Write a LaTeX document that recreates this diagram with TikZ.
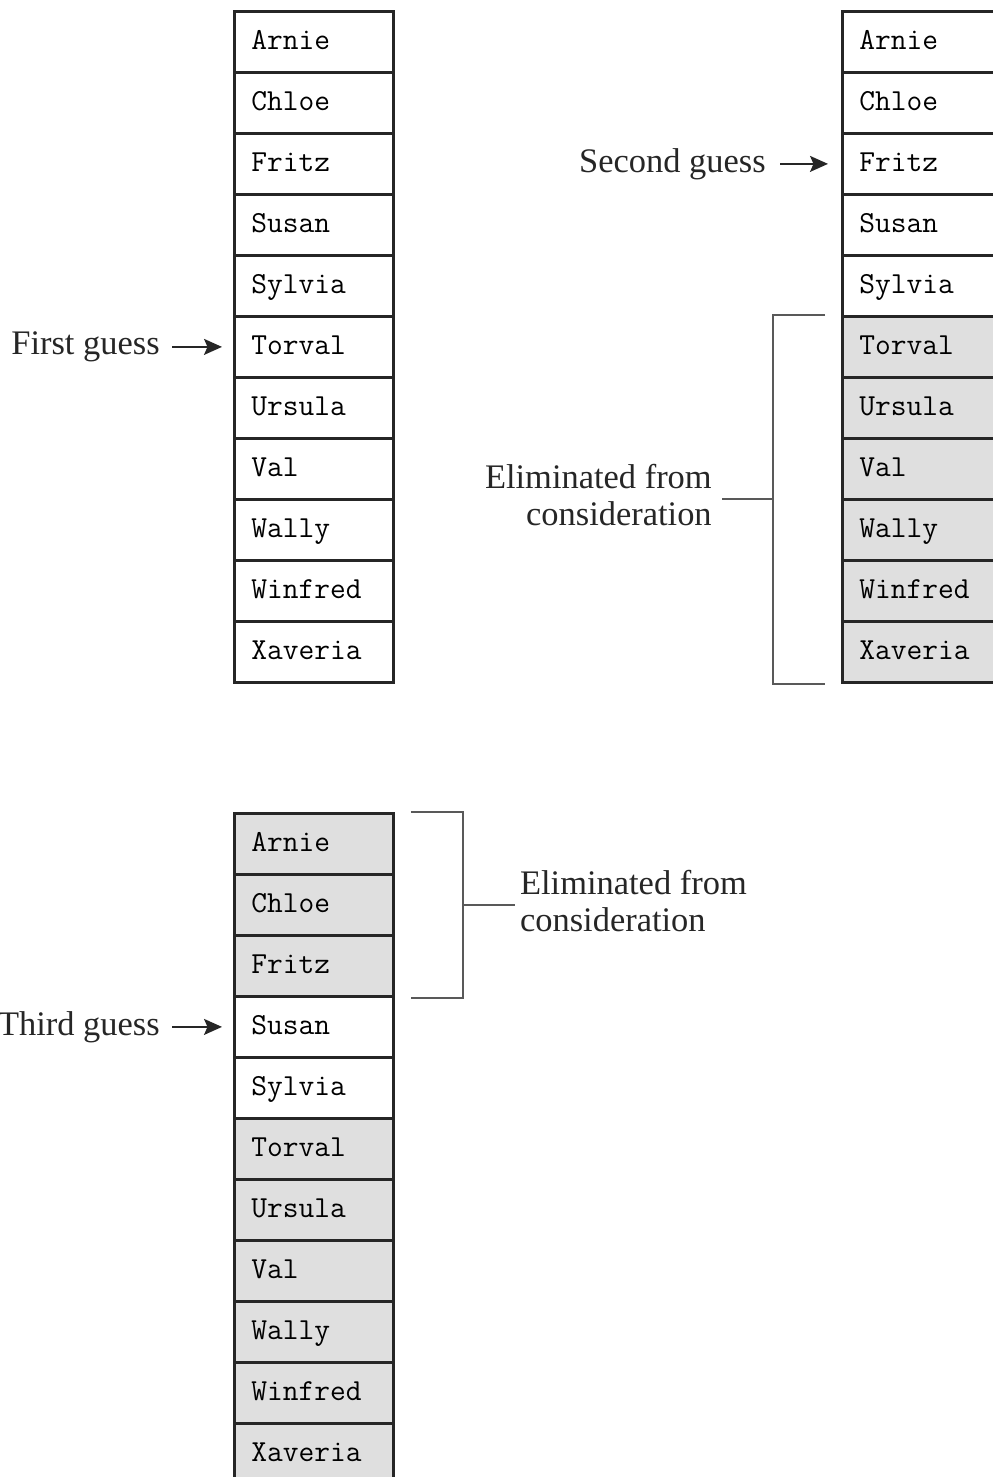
\documentclass[tikz,border=0pt]{standalone}
\usepackage{fontspec}
\setmainfont{Liberation Serif}
\usetikzlibrary{arrows.meta,positioning,calc}
\tikzset{cell/.style={draw=black!85,line width=1.6pt,fill=white,anchor=north west,minimum height=1.22cm,text width=2.5cm,inner xsep=0.34cm,inner ysep=0pt,align=left,text height=0.3cm,text depth=0pt,font=\fontsize{17.4}{19}\selectfont\ttfamily},gone/.style={cell,fill=gray!25},guess/.style={inner sep=0pt,font=\fontsize{19.6}{21}\selectfont,text=black!85},arr/.style={-{Stealth[length=3.6mm,width=3.2mm,inset=0.7mm]},line width=1pt,black!85},brk/.style={draw=black!65,line width=1.1pt},elim/.style={inner xsep=0.2cm,inner ysep=0pt,font=\fontsize{19.6}{21}\selectfont,text=black!85}}

\begin{document}
\begin{tikzpicture}[x=0.02cm,y=-0.02cm]
\useasboundingbox (0,0) rectangle (993,1477);
% first guess
\foreach \n/\s [count=\i] in {Arnie/cell,Chloe/cell,Fritz/cell,Susan/cell,Sylvia/cell,Torval/cell,Ursula/cell,Val/cell,Wally/cell,Winfred/cell,Xaveria/cell}
  \node[\s] (a\i) at (233,{10+61*(\i-1)}) {\n};
% second guess
\foreach \n/\s [count=\i] in {Arnie/cell,Chloe/cell,Fritz/cell,Susan/cell,Sylvia/cell,Torval/gone,Ursula/gone,Val/gone,Wally/gone,Winfred/gone,Xaveria/gone}
  \node[\s] (b\i) at (841,{10+61*(\i-1)}) {\n};
% third guess
\foreach \n/\s [count=\i] in {Arnie/gone,Chloe/gone,Fritz/gone,Susan/cell,Sylvia/cell,Torval/gone,Ursula/gone,Val/gone,Wally/gone,Winfred/gone,Xaveria/gone}
  \node[\s] (c\i) at (233,{812+61*(\i-1)}) {\n};

\node[guess,left=1.46cm of a6] (g1) {First guess};
\node[guess,left=1.5cm of b3] (g2) {Second guess};
\node[guess,left=1.46cm of c4] (g3) {Third guess};
\draw[arr,shorten <=0.24cm,shorten >=0.22cm] (g1) -- (a6);
\draw[arr,shorten <=0.28cm,shorten >=0.26cm] (g2) -- (b3);
\draw[arr,shorten <=0.24cm,shorten >=0.22cm] (g3) -- (c4);

% brackets
\draw[brk] ([xshift=-0.32cm]b6.north west) -- ++(-1.04cm,0) coordinate (v1) |- ([xshift=-0.32cm]b11.south west);
\coordinate (m1) at ($(v1)!0.5!(v1|-b11.south)$);
\node[elim,align=right,anchor=east] (e1) at ([xshift=-1.02cm,yshift=0.08cm]m1) {Eliminated from\\consideration};
\draw[brk] (m1) -- (m1-|e1.east);
\draw[brk] ([xshift=0.32cm]c1.north east) -- ++(1.04cm,0) coordinate (v2) |- ([xshift=0.32cm]c3.south east);
\coordinate (m2) at ($(v2)!0.5!(v2|-c3.south)$);
\node[elim,inner xsep=0.1cm,align=left,anchor=west] (e2) at ([xshift=1.04cm,yshift=0.08cm]m2) {Eliminated from\\consideration};
\draw[brk] (m2) -- (m2-|e2.west);
\end{tikzpicture}
\end{document}
